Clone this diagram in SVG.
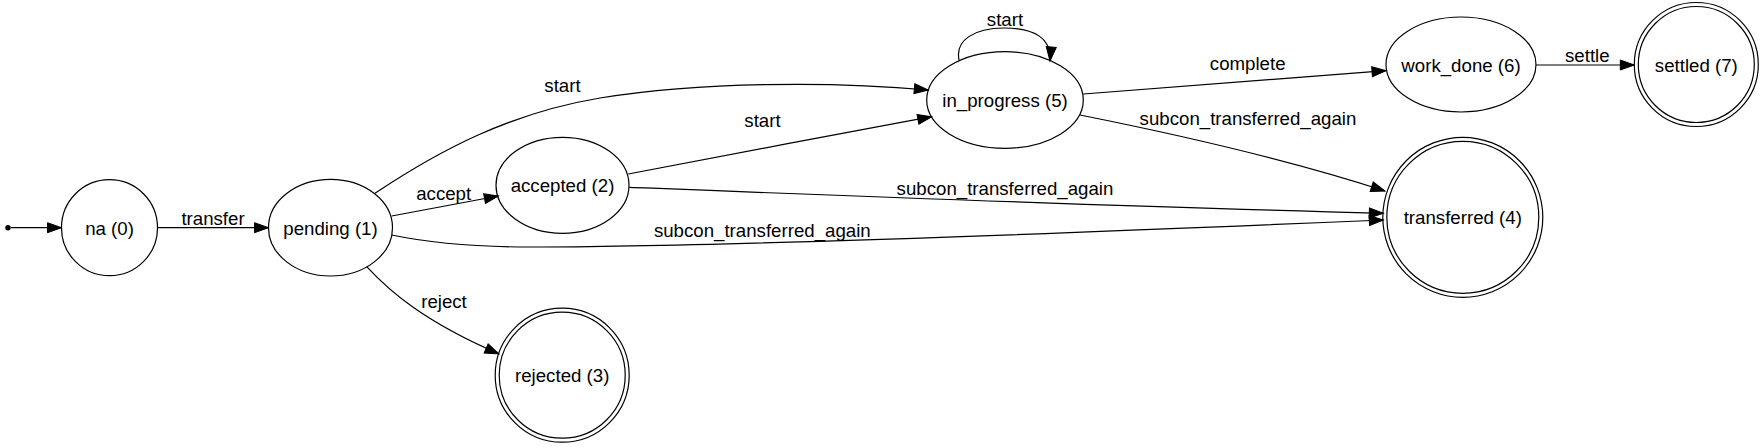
<svg xmlns="http://www.w3.org/2000/svg" width="1763" height="448" viewBox="0 0 1763 448">
<defs>
<style>
.n{fill:none;stroke:#000;stroke-width:1.2}
.t{font-family:"Liberation Sans",Arial,sans-serif;font-size:18.67px;fill:#000;text-anchor:middle}
.e{fill:none;stroke:#000;stroke-width:1.2;marker-end:url(#arr)}
</style>
<marker id="arr" markerUnits="userSpaceOnUse" markerWidth="18" markerHeight="14" viewBox="-2 -7 18 14" refX="14" refY="0" orient="auto">
<path d="M0,-5 L14,0 L0,5 z" fill="#000" stroke="#000" stroke-width="1"/>
</marker>
</defs>
<rect width="1763" height="448" fill="#fff"/>
<g id="start-point"><circle cx="8" cy="227.7" r="2.7" fill="#000"/></g>
<g id="node-na"><circle class="n" cx="109.5" cy="227.7" r="48"/><text class="t" x="109.5" y="234.5">na (0)</text></g>
<g id="node-pending"><ellipse class="n" cx="330.5" cy="227.7" rx="62" ry="48.3"/><text class="t" x="330.5" y="234.5">pending (1)</text></g>
<g id="node-accepted"><ellipse class="n" cx="562.5" cy="185.3" rx="66.5" ry="48"/><text class="t" x="562.5" y="192">accepted (2)</text></g>
<g id="node-rejected"><circle class="n" cx="562.2" cy="375.2" r="67"/><circle class="n" cx="562.2" cy="375.2" r="63"/><text class="t" x="562.2" y="382">rejected (3)</text></g>
<g id="node-transferred"><circle class="n" cx="1462.8" cy="217.3" r="80"/><circle class="n" cx="1462.8" cy="217.3" r="76"/><text class="t" x="1462.8" y="224">transferred (4)</text></g>
<g id="node-in_progress"><ellipse class="n" cx="1005" cy="100" rx="78.3" ry="48.3"/><text class="t" x="1005" y="107">in_progress (5)</text></g>
<g id="node-work_done"><ellipse class="n" cx="1461" cy="64.5" rx="75" ry="47.5"/><text class="t" x="1461" y="71.5">work_done (6)</text></g>
<g id="node-settled"><circle class="n" cx="1696.3" cy="64.5" r="62"/><circle class="n" cx="1696.3" cy="64.5" r="58"/><text class="t" x="1696.3" y="71.5">settled (7)</text></g>
<g id="connectors">
<path class="e" d="M10.7,227.7 L61.5,227.7"/>
<path class="e" d="M157.5,227.7 L268.5,227.7"/>
<text class="t" x="213" y="225">transfer</text>
<path class="e" d="M391.7,216 L498.3,196"/>
<text class="t" x="443.7" y="200">accept</text>
<path class="e" d="M375,193.3 C440,150 510,113 600,98 C700,82 830,81 928.3,90"/>
<text class="t" x="562.5" y="91.5">start</text>
<path class="e" d="M366.7,266.7 C390,292 425,322 499,354"/>
<text class="t" x="444" y="308">reject</text>
<path class="e" d="M628.3,174 C730,154 830,136 931.7,116.7"/>
<text class="t" x="762.5" y="126.5">start</text>
<path class="e" d="M629.3,187.3 C850,196 1100,206 1383.3,213.3"/>
<text class="t" x="1005" y="195">subcon_transferred_again</text>
<path class="e" d="M391.7,235 C430,243 470,247 530,247 C700,247 1100,232 1383.3,220"/>
<text class="t" x="762.3" y="237">subcon_transferred_again</text>
<path class="e" d="M1080,115 C1180,135 1290,160 1385,191"/>
<text class="t" x="1248" y="125">subcon_transferred_again</text>
<path class="e" d="M959.3,61 C954,40 975,28 1004,28 C1034,28 1052,38 1050,61"/>
<text class="t" x="1005" y="25.5">start</text>
<path class="e" d="M1083.3,94 L1386,70.7"/>
<text class="t" x="1247.7" y="70">complete</text>
<path class="e" d="M1536,65 L1634.3,65"/>
<text class="t" x="1587.3" y="61.5">settle</text>
</g>
</svg>
